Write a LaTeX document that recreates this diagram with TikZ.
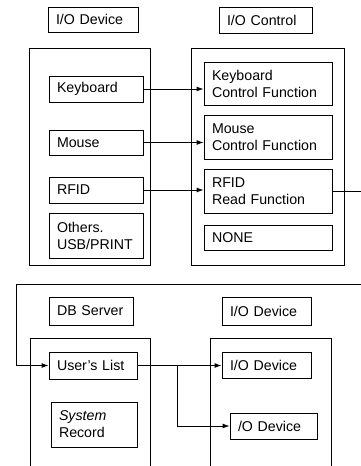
\documentclass[tikz,border=0pt]{standalone}
\usepackage{fontspec}
\setmainfont{Liberation Sans}
\usetikzlibrary{arrows.meta}

\tikzset{
  unit/.style={draw, line width=0.9pt, inner xsep=0pt, inner ysep=0pt,
    align=left, font=\fontsize{14.2}{17}\selectfont},
  frame/.style={draw, line width=0.9pt},
  arr/.style={draw, line width=0.9pt, -{Latex[length=7pt,width=5pt]}}
}

\newcommand{\unitbox}[6] % {name}{x1}{y1}{x2}{y2}{text}
{
 \pgfmathsetmacro{\unitw}{#4-#2}
 \pgfmathsetmacro{\unith}{#5-#3}
 \pgfmathsetmacro{\unittw}{#4-#2-16}
 \node[unit, minimum width=\unitw pt, minimum height=\unith pt,
   text width=\unittw pt] (#1) at ({(#2+#4)/2},{(#3+#5)/2}) {#6};
}

\begin{document}
\begin{tikzpicture}[x=1pt,y=-1pt]

\clip (0,0) rectangle (361,466);

% devices and their control functions
\unitbox{devtitle}{48}{7}{138}{32}{I/O Device}
\unitbox{ctltitle}{219}{7}{312}{33}{I/O Control}
\draw[frame] (29,48) rectangle (150,265);
\draw[frame] (191,48) rectangle (344,265);

\unitbox{kbd}{49}{76}{143}{102}{Keyboard}
\unitbox{mouse}{49}{130}{143}{155}{Mouse}
\unitbox{rfid}{49}{177}{143}{203}{RFID}
\unitbox{others}{49}{213}{143}{258}{Others.\\USB/PRINT}

\unitbox{kbdfn}{204}{62}{332}{105}{Keyboard\\Control Function}
\unitbox{mousefn}{204}{115}{332}{159}{Mouse\\Control Function}
\unitbox{rfidfn}{204}{169}{332}{213}{RFID\\Read Function}
\unitbox{nonefn}{204}{225}{332}{250}{NONE}

% server side
\unitbox{dbtitle}{49}{297}{133}{325}{DB Server}
\unitbox{iotitle}{222}{297}{311}{325}{I/O Device}
\draw[frame] (30,338) rectangle (150,480);
\draw[frame] (210,338) rectangle (331,480);

\unitbox{users}{49}{352}{137}{379}{User's List}
\unitbox{sysrec}{51}{402}{137}{447}{\textit{System}\\Record}
\unitbox{iodev}{222}{352}{311}{378}{I/O Device}
\unitbox{iodevb}{230}{413}{317}{439}{/O Device}

\draw[arr] (kbd.east) -- (kbd.east -| kbdfn.west);
\draw[arr] (mouse.east) -- (mouse.east -| mousefn.west);
\draw[arr] (rfid.east) -- (rfid.east -| rfidfn.west);

% RFID reads loop round to the user list
\coordinate (loopr) at (372,284);
\coordinate (loopl) at (16,284);
\draw[arr] (rfidfn.east) -| (loopr) -- (loopl) |- (users.west);

\coordinate (fork) at (177,0);
\draw[arr] (users.east) -- (users.east -| iodev.west);
\draw[arr] (users.east -| fork) |- (iodevb.west);

\end{tikzpicture}
\end{document}
